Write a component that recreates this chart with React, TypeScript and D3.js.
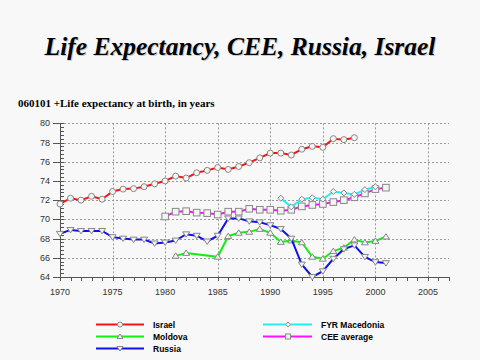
import React from 'react';
import * as d3 from 'd3';

const israelYears = [1970, 1971, 1972, 1973, 1974, 1975, 1976, 1977, 1978, 1979, 1980, 1981, 1982, 1983, 1984, 1985, 1986, 1987, 1988, 1989, 1990, 1991, 1992, 1993, 1994, 1995, 1996, 1997, 1998];
const israel = [71.6, 72.2, 72.0, 72.4, 72.1, 72.9, 73.15, 73.2, 73.4, 73.7, 74.0, 74.5, 74.3, 74.85, 75.1, 75.4, 75.2, 75.5, 75.9, 76.4, 76.9, 76.9, 76.7, 77.3, 77.6, 77.5, 78.4, 78.3, 78.5];

const ceeYears = [1980, 1981, 1982, 1983, 1984, 1985, 1986, 1987, 1988, 1989, 1990, 1991, 1992, 1993, 1994, 1995, 1996, 1997, 1998, 1999, 2000, 2001];
const cee = [70.3, 70.8, 70.85, 70.7, 70.65, 70.5, 70.8, 70.8, 71.1, 71.0, 71.0, 70.9, 71.0, 71.35, 71.5, 71.6, 71.8, 72.0, 72.3, 72.7, 73.15, 73.3];

const macedoniaYears = [1991, 1992, 1993, 1994, 1995, 1996, 1997, 1998, 1999, 2000];
const macedonia = [72.2, 71.3, 72.1, 72.25, 72.1, 72.9, 72.75, 72.6, 73.1, 73.4];

const moldovaYears = [1981, 1982, 1985, 1986, 1987, 1988, 1989, 1990, 1991, 1992, 1993, 1994, 1995, 1996, 1997, 1998, 1999, 2000, 2001];
const moldova = [66.2, 66.5, 66.1, 68.25, 68.6, 68.7, 69.0, 68.6, 67.65, 67.8, 67.6, 66.1, 65.9, 66.7, 67.05, 67.9, 67.6, 67.75, 68.2];

const russiaYears = [1970, 1971, 1972, 1973, 1974, 1975, 1976, 1977, 1978, 1979, 1980, 1981, 1982, 1983, 1984, 1985, 1986, 1987, 1988, 1989, 1990, 1991, 1992, 1993, 1994, 1995, 1996, 1997, 1998, 1999, 2000, 2001];
const russia = [68.5, 68.9, 68.8, 68.8, 68.8, 68.15, 68.0, 67.9, 67.9, 67.5, 67.6, 67.8, 68.45, 68.3, 67.7, 68.3, 70.1, 70.1, 69.8, 69.7, 69.4, 69.0, 68.0, 65.3, 64.0, 64.6, 65.9, 66.9, 67.3, 66.1, 65.55, 65.45];

const xTicks = [1970, 1975, 1980, 1985, 1990, 1995, 2000, 2005];
const yTicks = [64, 66, 68, 70, 72, 74, 76, 78, 80];

type Shape = 'circle' | 'square' | 'diamond' | 'up' | 'down';

const series = [
  { name: 'Israel', years: israelYears, values: israel, color: '#ff1010', shape: 'circle' as Shape },
  { name: 'CEE average', years: ceeYears, values: cee, color: '#ff10ff', shape: 'square' as Shape },
  { name: 'FYR Macedonia', years: macedoniaYears, values: macedonia, color: '#20f0f0', shape: 'diamond' as Shape },
  { name: 'Moldova', years: moldovaYears, values: moldova, color: '#10f010', shape: 'up' as Shape },
  { name: 'Russia', years: russiaYears, values: russia, color: '#1010f0', shape: 'down' as Shape },
];

const legendLeft = ['Israel', 'Moldova', 'Russia'];
const legendRight = ['FYR Macedonia', 'CEE average'];

// s = half size of the marker
const Marker = ({ shape, x, y, s = 3 }: { shape: Shape; x: number; y: number; s?: number }) => {
  const st = { fill: '#f4f4f4', stroke: '#888', strokeWidth: 1 };
  if (shape === 'circle') return <circle cx={x} cy={y} r={s} {...st} />;
  if (shape === 'square') return <rect x={x - s} y={y - s} width={2 * s} height={2 * s} {...st} />;
  if (shape === 'diamond') return <path d={`M${x},${y - s}L${x + s},${y}L${x},${y + s}L${x - s},${y}Z`} {...st} />;
  if (shape === 'up') return <path d={`M${x},${y - s}L${x + s + 0.5},${y + s * 0.8}L${x - s - 0.5},${y + s * 0.8}Z`} {...st} />;
  return <path d={`M${x},${y + s}L${x + s + 0.5},${y - s * 0.8}L${x - s - 0.5},${y - s * 0.8}Z`} {...st} />;
};

export default function App() {
  const width = 480;
  const height = 360;
  const x = d3.scaleLinear().domain([1970, 2007]).range([60, 449]);
  const y = d3.scaleLinear().domain([64, 80]).range([277, 123.3]);

  const line = d3.line<[number, number]>()
    .x(d => x(d[0]))
    .y(d => y(d[1]));

  const minorY = d3.range(64, 80.001, 0.4).map(v => +v.toFixed(1));
  const minorX = d3.range(1970, 2008, 1);
  const axisFont = '"Liberation Sans", Arial, sans-serif';

  return (
    <svg width={width} height={height} style={{ position: 'absolute', left: 0, top: 0, background: '#f8f8f8' }}>
      <rect width={width} height={height} fill="#f8f8f8" />
      {/* title */}
      <g fontFamily='"Liberation Serif", "Times New Roman", serif' fontWeight="bold" fontStyle="italic" fontSize={25.5} textAnchor="middle">
        <text x={241} y={56} fill="#c8c8c8">Life Expectancy, CEE, Russia, Israel</text>
        <text x={240} y={55} fill="#000">Life Expectancy, CEE, Russia, Israel</text>
      </g>
      <text x={18} y={107} fontFamily='"Liberation Serif", "Times New Roman", serif' fontWeight="bold" fontSize={11}>
        060101 +Life expectancy at birth, in years
      </text>

      {/* grid */}
      <g stroke="#999" strokeDasharray="2,2" strokeWidth={1}>
        {yTicks.map(t => (
          <line key={'gy' + t} x1={x(1970)} x2={x(2007)} y1={Math.round(y(t)) + 0.5} y2={Math.round(y(t)) + 0.5} />
        ))}
        {xTicks.filter(t => t > 1970).map(t => (
          <line key={'gx' + t} x1={Math.round(x(t)) + 0.5} x2={Math.round(x(t)) + 0.5} y1={y(80)} y2={y(64)} />
        ))}
      </g>

      {/* axes */}
      <g stroke="#555" strokeWidth={1}>
        <line x1={60.5} x2={60.5} y1={y(80)} y2={y(64)} />
        <line x1={60} x2={449} y1={Math.round(y(64)) + 0.5} y2={Math.round(y(64)) + 0.5} />
        {minorY.map(t => (
          <line key={'my' + t} x1={60} x2={64} y1={Math.round(y(t)) + 0.5} y2={Math.round(y(t)) + 0.5} />
        ))}
        {yTicks.map(t => (
          <line key={'ty' + t} x1={53} x2={60} y1={Math.round(y(t)) + 0.5} y2={Math.round(y(t)) + 0.5} />
        ))}
        {minorX.map(t => (
          <line key={'mx' + t} x1={Math.round(x(t)) + 0.5} x2={Math.round(x(t)) + 0.5} y1={y(64)} y2={y(64) + 4} />
        ))}
      </g>
      <g fontFamily={axisFont} fontSize={9} fill="#333">
        {yTicks.map(t => (
          <text key={'ly' + t} x={50} y={y(t) + 3} textAnchor="end">{t}</text>
        ))}
        {xTicks.map(t => (
          <text key={'lx' + t} x={x(t)} y={295} textAnchor="middle">{t}</text>
        ))}
      </g>

      {/* series */}
      {series.map(s => {
        const pts = s.years.map((yr, i) => [yr, s.values[i]] as [number, number]);
        return (
          <g key={s.name}>
            <path d={line(pts) || ''} fill="none" stroke={s.color} strokeWidth={2} />
            {pts.map((p, i) => (
              <Marker key={i} shape={s.shape} x={x(p[0])} y={y(p[1])} s={s.shape === 'square' ? 3.3 : 3} />
            ))}
          </g>
        );
      })}

      {/* legend */}
      <g fontFamily={axisFont} fontWeight="bold" fontSize={8.5}>
        {legendLeft.map((n, i) => {
          const s = series.find(d => d.name === n)!;
          const ly = 324.5 + i * 12;
          return (
            <g key={n}>
              <line x1={96} x2={144} y1={ly} y2={ly} stroke={s.color} strokeWidth={2} />
              <Marker shape={s.shape} x={120} y={ly} s={2.5} />
              <text x={153} y={ly + 3}>{n}</text>
            </g>
          );
        })}
        {legendRight.map((n, i) => {
          const s = series.find(d => d.name === n)!;
          const ly = 324.5 + i * 12;
          return (
            <g key={n}>
              <line x1={263} x2={312} y1={ly} y2={ly} stroke={s.color} strokeWidth={2} />
              <Marker shape={s.shape} x={288} y={ly} s={2.5} />
              <text x={321} y={ly + 3}>{n}</text>
            </g>
          );
        })}
      </g>
    </svg>
  );
}
